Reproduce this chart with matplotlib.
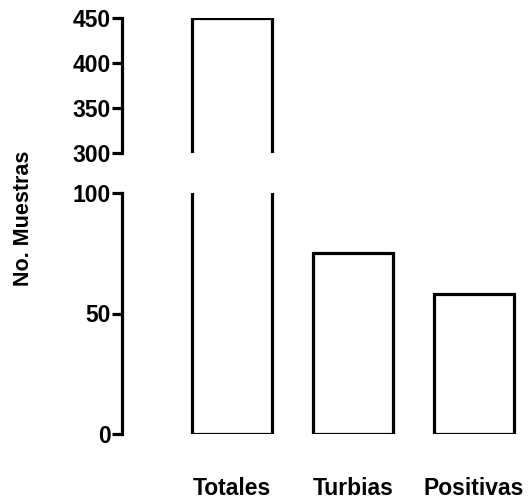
import matplotlib
matplotlib.use("Agg")
import matplotlib.pyplot as plt

categories = ["Totales", "Turbias", "Positivas"]
values = [450, 75, 58]
top_ticks = [300, 350, 400, 450]
bottom_ticks = [0, 50, 100]

plt.rcParams['font.family'] = ['Liberation Sans', 'DejaVu Sans']
plt.rcParams['font.weight'] = 'bold'

W, H = 528, 501
fig = plt.figure(figsize=(W / 100, H / 100), dpi=100)

left = 122 / W
right = 528 / W
ax_top = fig.add_axes([left, (H - 153) / H, right - left, 135 / H])
ax_bot = fig.add_axes([left, (H - 434) / H, right - left, 241 / H])

x = list(range(len(categories)))
xlim = (-0.909, 2.446)
lw = 2.3
for ax in (ax_top, ax_bot):
    ax.bar(x, values, width=0.66, facecolor='white', edgecolor='black',
           linewidth=lw, joinstyle='miter')
    ax.set_xlim(*xlim)
    for s in ('top', 'right', 'bottom'):
        ax.spines[s].set_visible(False)
    ax.spines['left'].set_linewidth(lw)
    ax.tick_params(axis='y', length=7, width=lw, labelsize=16.5, pad=1)
    ax.tick_params(axis='x', length=0)
    ax.patch.set_visible(False)

ax_top.set_ylim(300, 450)
ax_top.set_yticks(top_ticks)
ax_top.set_xticks([])
ax_top.spines['left'].set_bounds(300, 450)

ax_bot.set_ylim(0, 100)
ax_bot.set_yticks(bottom_ticks)
ax_bot.set_xticks(x)
ax_bot.set_xticklabels(categories, fontsize=16.5, fontweight='bold')
ax_bot.tick_params(axis='x', pad=31)

for lab in ax_top.get_yticklabels() + ax_bot.get_yticklabels():
    lab.set_fontweight('bold')

fig.text(24 / W, 1 - 218 / H, "No. Muestras", rotation=90, fontsize=15.5,
         fontweight='bold', ha='center', va='center')

fig.savefig("out.png", dpi=100)
